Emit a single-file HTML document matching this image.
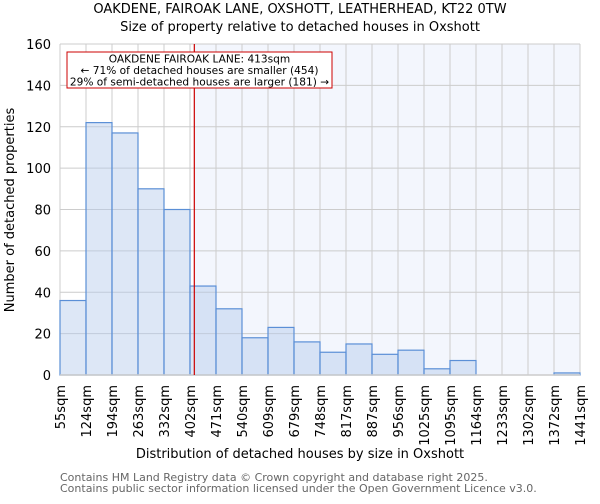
<!DOCTYPE html>
<html><head><meta charset="utf-8"><style>
body{margin:0;background:#fff;font-family:"DejaVu Sans","Liberation Sans",sans-serif}
</style></head><body>
<svg id="chart" width="600" height="500" xmlns="http://www.w3.org/2000/svg" font-family="DejaVu Sans, Liberation Sans, sans-serif">
<text x="300" y="13" text-anchor="middle" font-size="13">OAKDENE, FAIROAK LANE, OXSHOTT, LEATHERHEAD, KT22 0TW</text>
<text x="300" y="31" text-anchor="middle" font-size="13">Size of property relative to detached houses in Oxshott</text>
<g id="plot"></g>
<text x="300" y="458" text-anchor="middle" font-size="13">Distribution of detached houses by size in Oxshott</text>
<text transform="translate(14,210) rotate(-90)" text-anchor="middle" font-size="13">Number of detached properties</text>
<text x="60" y="481" font-size="11" fill="#666">Contains HM Land Registry data © Crown copyright and database right 2025.</text>
<text x="60" y="492" font-size="11" fill="#666">Contains public sector information licensed under the Open Government Licence v3.0.</text>
</svg>
<script>
const edgeLabels=["55sqm","124sqm","194sqm","263sqm","332sqm","402sqm","471sqm","540sqm","609sqm","679sqm","748sqm","817sqm","887sqm","956sqm","1025sqm","1095sqm","1164sqm","1233sqm","1302sqm","1372sqm","1441sqm"];
const edgeValues=[55,124,194,263,332,402,471,540,609,679,748,817,887,956,1025,1095,1164,1233,1302,1372,1441];
const counts=[36,122,117,90,80,43,32,18,23,16,11,15,10,12,3,7,0,0,0,1];
const yTicks=[0,20,40,60,80,100,120,140,160];
const subjectSize=413;
const X0=60,X1=580,Y0=375,Y1=44;
const NS="http://www.w3.org/2000/svg";
const g=document.getElementById('plot');
const xs=v=>X0+(v-edgeValues[0])/(edgeValues[edgeValues.length-1]-edgeValues[0])*(X1-X0);
const xi=i=>X0+i*(X1-X0)/counts.length;
const ys=v=>Y0-v/160*(Y0-Y1);
function mk(t,a){const e=document.createElementNS(NS,t);for(const k in a)e.setAttribute(k,a[k]);g.appendChild(e);return e;}
const sx=xs(subjectSize);
let e=mk('rect',{x:sx,y:Y1,width:X1-sx,height:Y0-Y1,fill:'#f3f6fd'});


yTicks.forEach(t=>{const l=mk('line',{x1:X0,x2:X1,y1:ys(t),y2:ys(t),stroke:'#ccc'});


const tx=mk('text',{x:X0-9,y:ys(t)+5,'text-anchor':'end','font-size':13});tx.textContent=t;

});
edgeLabels.forEach((lb,i)=>{const x=xi(i);const l=mk('line',{x1:x,x2:x,y1:Y1,y2:Y0,stroke:'#ccc'});


const tx=mk('text',{transform:`translate(${x+5},${Y0+10}) rotate(-90)`,'text-anchor':'end','font-size':13});tx.textContent=lb;

});
counts.forEach((c,i)=>{if(c<=0)return;const r=mk('rect',{x:xi(i),y:ys(c),width:xi(i+1)-xi(i),height:Y0-ys(c),fill:'rgba(180,202,235,0.45)',stroke:'#5b8fd6','stroke-width':1.2});

});
e=mk('line',{x1:X0,x2:X1,y1:Y0,y2:Y0,stroke:'#ccc','stroke-width':1.5});


e=mk('line',{x1:sx,x2:sx,y1:Y1,y2:Y0,stroke:'#cc0000','stroke-width':1.2});


e=mk('rect',{x:67,y:52,width:265,height:36,fill:'#fff',stroke:'#cc0000'});


["OAKDENE FAIROAK LANE: 413sqm","← 71% of detached houses are smaller (454)","29% of semi-detached houses are larger (181) →"].forEach((s,i)=>{const t=mk('text',{x:199.5,y:62.5+i*11.5,'text-anchor':'middle','font-size':10.6});t.textContent=s;

});
</script>
</body></html>
